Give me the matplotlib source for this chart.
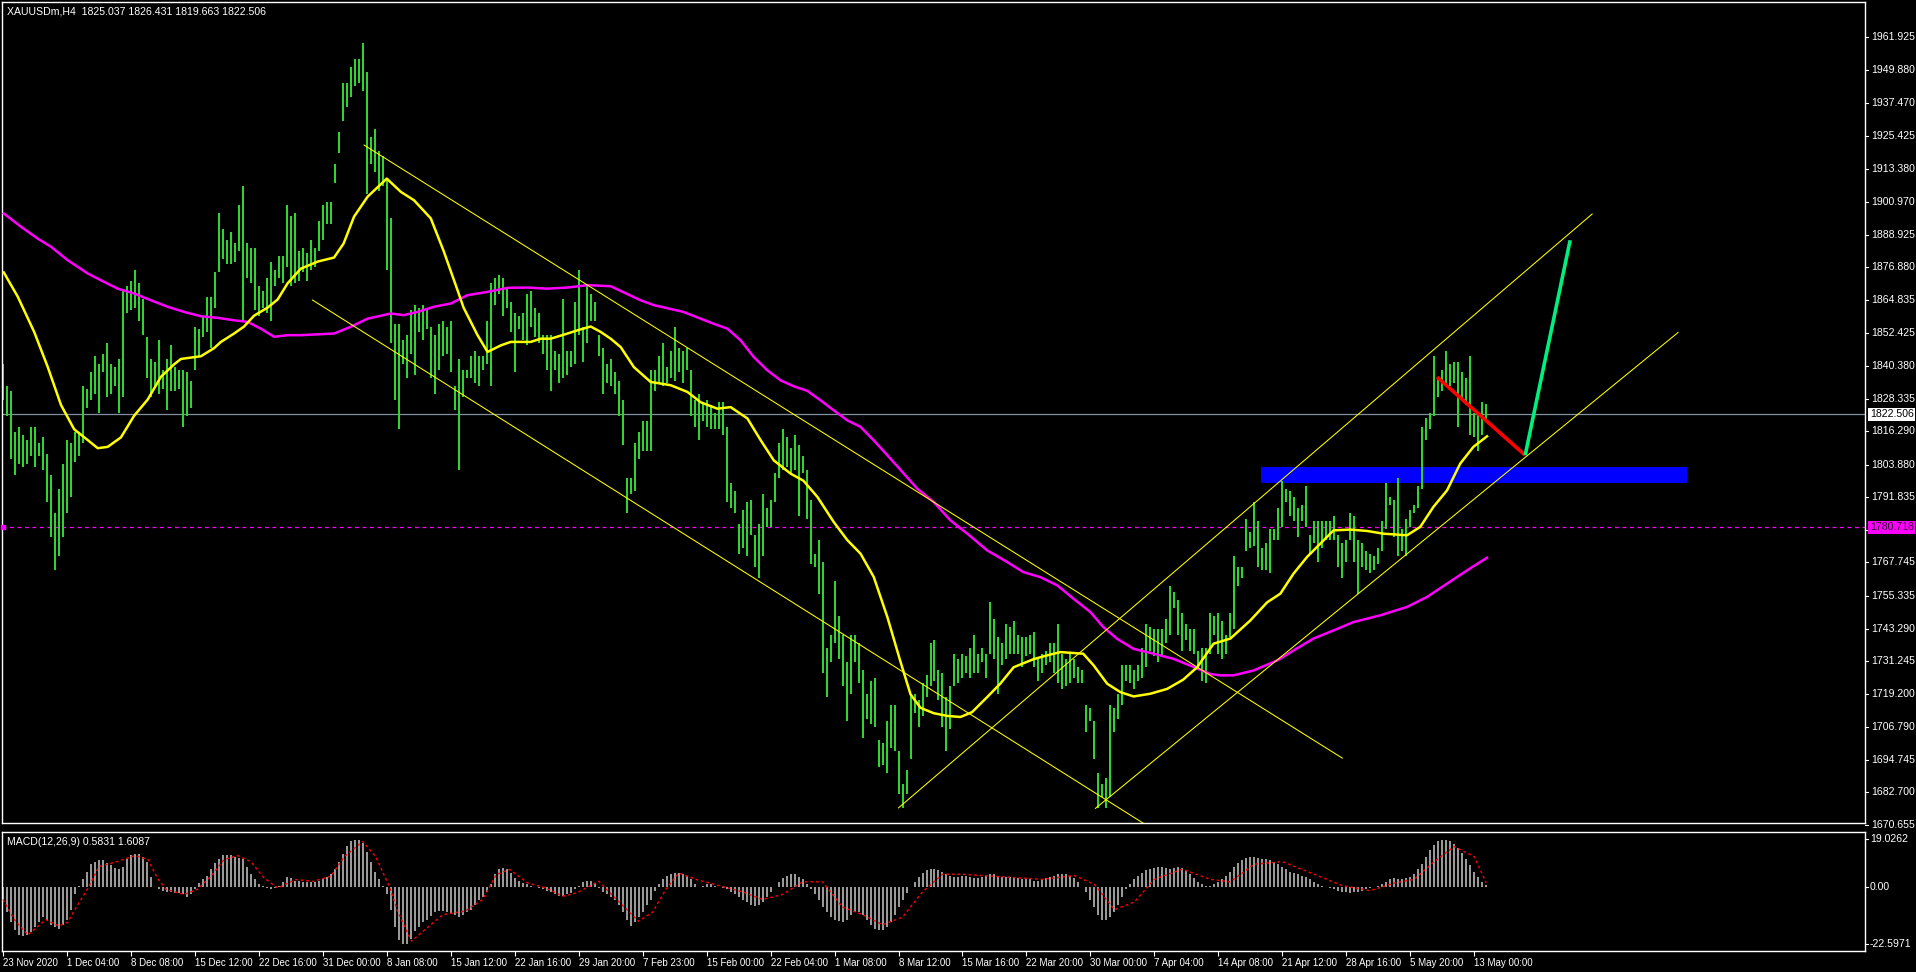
import matplotlib
matplotlib.use('Agg')
import matplotlib.pyplot as plt
import matplotlib.transforms as mtransforms
from matplotlib.patches import Rectangle
import numpy as np

plt.rcParams['font.family'] = ['Liberation Sans', 'DejaVu Sans']

# ---------------- data ----------------
header = "XAUUSDm,H4  1825.037 1826.431 1819.663 1822.506"
macd_title = "MACD(12,26,9) 0.5831 1.6087"

high = [1841,1833,1831,1816,1818,1815,1813,1818,1818,1812,
        1814,1808,1800,1786,1795,1804,1813,1812,1816,1816,
        1833,1832,1838,1844,1841,1845,1849,1841,1840,1843,
        1868,1870,1872,1876,1871,1865,1851,1843,1842,1850,
        1839,1843,1848,1840,1839,1839,1838,1835,1855,1854,
        1859,1866,1866,1875,1897,1891,1887,1890,1886,1900,
        1907,1886,1884,1884,1870,1868,1873,1879,1876,1881,
        1881,1900,1896,1897,1883,1884,1882,1887,1884,1894,
        1900,1901,1901,1915,1927,1945,1945,1951,1954,1954,
        1960,1949,1925,1928,1920,1918,1909,1895,1856,1856,
        1850,1852,1861,1863,1862,1863,1862,1855,1852,1856,
        1857,1855,1857,1833,1843,1839,1839,1844,1846,1844,
        1844,1857,1871,1873,1874,1873,1869,1864,1860,1859,
        1860,1867,1868,1862,1860,1852,1852,1852,1846,1845,
        1865,1846,1846,1864,1876,1855,1870,1867,1864,1852,
        1847,1841,1843,1838,1835,1828,1799,1799,1812,1816,
        1820,1820,1839,1839,1844,1849,1840,1846,1855,1847,
        1846,1847,1839,1828,1830,1827,1828,1826,1823,1827,
        1827,1818,1797,1794,1782,1787,1790,1791,1778,1782,
        1793,1788,1791,1801,1812,1817,1814,1810,1815,1811,
        1807,1802,1791,1771,1776,1768,1736,1741,1761,1748,
        1741,1731,1741,1741,1738,1728,1719,1724,1725,1702,
        1701,1709,1715,1715,1698,1686,1691,1719,1719,1717,
        1723,1726,1738,1739,1728,1727,1718,1722,1734,1732,
        1734,1733,1736,1741,1734,1736,1734,1753,1747,1740,
        1738,1745,1744,1746,1741,1740,1740,1741,1742,1732,
        1734,1735,1738,1738,1745,1734,1732,1734,1732,1729,
        1728,1715,1714,1709,1690,1686,1688,1715,1714,1719,
        1730,1730,1730,1728,1730,1736,1745,1744,1743,1743,
        1743,1747,1759,1757,1754,1749,1745,1743,1743,1735,
        1736,1736,1749,1748,1749,1746,1741,1749,1770,1766,
        1766,1784,1779,1790,1783,1773,1775,1780,1780,1788,
        1798,1795,1794,1792,1788,1789,1796,1778,1783,1783,
        1783,1783,1783,1785,1778,1775,1776,1786,1785,1776,
        1775,1772,1771,1770,1773,1783,1797,1792,1791,1799,
        1780,1784,1787,1789,1796,1818,1821,1823,1844,1836,
        1839,1846,1841,1842,1842,1838,1836,1844,1823,1823,
        1827,1826.4]

low = [1828,1822,1806,1800,1804,1803,1804,1807,1803,1807,
       1802,1790,1777,1765,1770,1777,1786,1792,1805,1807,
       1812,1825,1828,1830,1823,1838,1829,1830,1833,1823,
       1829,1860,1861,1862,1857,1852,1836,1829,1833,1830,
       1832,1824,1831,1831,1832,1818,1822,1825,1839,1844,
       1851,1853,1847,1862,1875,1880,1878,1878,1879,1883,
       1857,1873,1871,1861,1859,1862,1860,1857,1870,1873,
       1871,1877,1870,1871,1872,1875,1872,1876,1877,1883,
       1887,1893,1893,1908,1919,1931,1936,1940,1944,1945,
       1942,1904,1915,1912,1905,1907,1876,1849,1828,1817,
       1841,1836,1845,1837,1853,1850,1854,1836,1830,1839,
       1844,1845,1838,1824,1802,1829,1836,1836,1834,1833,
       1839,1841,1833,1863,1867,1859,1862,1853,1838,1854,
       1850,1848,1855,1851,1849,1845,1839,1831,1839,1834,
       1836,1837,1840,1841,1852,1842,1849,1857,1857,1844,
       1830,1834,1833,1830,1822,1811,1786,1793,1794,1806,
       1809,1809,1809,1831,1834,1833,1834,1836,1835,1838,
       1834,1839,1822,1818,1813,1820,1818,1817,1817,1817,
       1815,1790,1788,1786,1771,1773,1770,1778,1766,1762,
       1770,1781,1781,1790,1799,1802,1803,1801,1802,1785,
       1801,1784,1767,1766,1756,1727,1718,1731,1738,1732,
       1722,1709,1719,1731,1723,1703,1710,1708,1707,1692,
       1693,1690,1699,1698,1682,1677,1682,1695,1712,1707,
       1711,1718,1722,1724,1717,1707,1698,1706,1722,1723,
       1725,1727,1725,1727,1727,1731,1725,1734,1732,1719,
       1730,1732,1734,1734,1734,1729,1733,1734,1729,1724,
       1727,1730,1731,1727,1723,1721,1722,1723,1725,1723,
       1723,1705,1709,1695,1677,1681,1677,1681,1705,1710,
       1715,1724,1723,1721,1724,1725,1729,1735,1733,1731,
       1733,1738,1741,1751,1741,1735,1739,1735,1734,1728,
       1724,1723,1734,1741,1734,1732,1734,1740,1743,1759,
       1762,1772,1773,1774,1766,1765,1765,1764,1776,1776,
       1781,1790,1785,1783,1777,1783,1781,1771,1775,1768,
       1773,1776,1776,1776,1766,1762,1768,1776,1768,1756,
       1766,1765,1764,1765,1767,1772,1780,1789,1777,1770,
       1772,1770,1781,1786,1788,1795,1813,1817,1822,1829,
       1831,1834,1833,1834,1818,1828,1826,1815,1814,1809,
       1815,1819.7]

macd = [-6,-10,-14,-17,-19,-19.5,-19,-18,-16,-14,
        -12,-13,-15,-16,-16.5,-15,-13,-9,-3,0.5,
        3,6,9,10,10.5,10.5,9.5,8.5,7.5,7,
        8,11,12.5,13,13,12,10,4,0,-1,
        -1.5,-2,-2,-2.5,-2.5,-3,-4,-3,-1,1.5,
        3,4.5,7,9.5,11,12.5,12.5,12.5,12,11.5,
        11,8,5,3,1,0.5,-0.5,-1,-0.5,0.5,
        2,4,3.5,2.5,2.5,2,2,2,2,2.5,
        3,4,5,7,10,13,16,18,18.5,18.5,
        17.5,14,10,6,3,0.5,-3,-9,-16,-21,
        -22.5,-22.5,-20.5,-17.5,-16,-14,-13,-11.5,-10,-9.5,
        -9.5,-10,-10.5,-11,-12,-11,-10,-9,-7,-5,
        -4,-2,1,5,7,7.5,7,5.5,3.5,2.5,
        1.5,1,0.5,0,-0.5,-1,-1.5,-2,-3,-3.5,
        -3.5,-3,-2.5,-1,0.5,2,2.5,2.5,1.5,-0.5,
        -2,-3,-4,-5,-7,-10,-13,-15.5,-14,-12,
        -10,-7,-5,-1.5,1,3,4.5,5,5.5,5.5,
        5,4.5,3,1,0,
        0.5,1,1,0.5,0,-0.5,-1,-2,
        -3,-4,-5,-6,-7,-7.5,-7,-6,-4,
        -2,0,2,3.5,4.5,5,5,4,3,
        1,-1,-3,-5,-8,-10,-12,-13,-13.5,-14,-13,
        -11,-10,-10,-11,-13,-15,-16.5,-17,
        -17,-16,-14,-11,-8,-5,-2.5,0,
        2,4,5.5,6.5,7,7,6.5,6,5,4.5,
        4,4,4.5,4.5,4,3.5,3.5,4,4.5,5,5,4.5,4,4,4,3.5,3.5,3,3,3,2.5,2.5,3,3.5,4,
        4.5,5,5,5,4.5,3.5,2,
        0,-2,-5,-8,-11,-13,-13,-12,-10,-7,-4,-1,
        1,3,4.5,5.5,6.5,7,7.5,8,8,7.5,7,7.5,8,7.5,6.5,5,3.5,2,
        1,0.5,0.5,1,2,3,4.5,6,
        8,9.5,10.5,11.5,12,12,11.5,11,11,10.5,10,9,8,7,
        6,5.5,5,4.5,4,3,2,1,0.5,0,-0.5,
        -1,-1.5,-2,-2,-2.5,-2,-2,-1.5,-1,-0.5,0,0.5,1,
        2,3,3.5,3,3,3.5,4,5,7,9,12,
        14.5,16.5,18,18.5,18.5,18,17,15.5,13.5,11,8.5,6,4,2,0.58]

signal_idx = [0,2.85,6.2,10.7,14,16.2,18.5,21.3,24,28.5,33,36.3,38.6,40.8,45.3,48.6,52,55.3,58.7,62,
              65.3,68.7,73.2,77.6,82,85.4,90,93.2,96.6,98.8,102.2,105.5,110,115.6,120,123.4,126.7,131.2,135.7,140,
              143.5,149,153.5,159,162.5,165.8,169,173.5,178,185,190,195,200,205,210,215,220,225,230,235,
              240,250,260,268,273,278,283,288,295,302,307,313,320,328,335,342,348,353,358,363,368,371]
signal_val = [-5,-13,-19,-13,-15.5,-14,-7.6,-0.4,8,10,12.4,10.8,3.5,-1,-3,-1,4.2,10.8,12.4,10,
              3.5,-0.4,2.9,2.2,4.2,12,18,12,0.3,-10,-21.5,-17,-11,-9.6,-5,4.9,6.9,1.6,-0.4,-3.7,
              -2.4,2.2,-5,-13.6,-10,-1,5.5,2.9,1,-2,-5,-3,2,2,-8,-11,-15,-12,-2,5,
              5,4,3,4.5,1,-9,-6,3,7,3,2,9,10,5,0.5,-1.5,1.5,3,10,16,12,1.6087]

fast_ma_idx = [0.2,3.7,7.8,11.2,14.5,17.8,21.2,23.7,26.2,29.5,32.8,36.2,39.5,42.8,44.5,49.5,52.8,54.5,57.8,60.3,
               62.8,66.2,68.7,71.2,74.5,78.7,82.8,85.2,87.8,91.2,96,99.5,102.8,107,110.2,113.7,115.2,118.7,121.2,124.5,
               127,132,134.5,137,141.2,143.7,147,149.5,152,154.5,157.8,162,167,171.2,174.5,178.7,182,186.2,189.5,192.8,
               197,200.2,203.7,207.8,211.2,214.5,217.8,221.2,224.5,227,229.5,232.8,236.2,239.5,242.4,246.2,249.5,252.8,257.8,261.2,
               264.5,270.2,272.8,276.2,279.5,282.8,287,291.2,295.2,298.7,302.8,307,312,316.2,319.5,322.8,326.2,329.5,332.8,337,
               341.2,345.2,351.2,354.5,357.8,361.2,364.5,367.8,371.2]
fast_ma = [1875,1866,1853,1840,1826,1817,1813,1810,1810.5,1814,1822,1828,1836.4,1841,1843,1844,1847,1849.3,1852.4,1855,
           1859,1862,1865,1871,1876.4,1879,1880.5,1885.7,1895.6,1903,1909.7,1904.8,1901.7,1895,1883,1868.4,1862,1851.8,1845.6,1848,
           1849.3,1849.3,1850.5,1850.5,1852.4,1853.6,1855,1853,1850.5,1847.4,1840,1834.5,1833.3,1830.8,1827,1824.6,1825.2,1821,1813,1805.5,
           1800.6,1798,1792,1782.7,1776,1771,1762.4,1747.6,1731,1719,1714,1712,1711,1710.6,1712.4,1718,1723,1729,1732,1733.4,
           1734.6,1734,1729.7,1722.9,1719.8,1718.2,1719.2,1721,1724.4,1729,1737.7,1739.6,1746.3,1753,1756.2,1763.6,1769.8,1774.7,1779.6,1779.9,
           1779.4,1778.4,1777.8,1780.9,1788.3,1794.4,1804.3,1810.5,1814.4]

slow_ma_idx = [0.2,4.5,8.7,12,16.2,21.2,24.5,28.7,32.8,37,41.2,45.3,49.5,53.7,57.8,61.2,64.5,67.8,71.2,74.5,
               82.8,87,91.2,97,100.2,103.7,107.8,112,116.2,121.2,126.2,131.2,136.2,141.2,146.2,152,159.5,162.8,170.2,177.8,
               181.2,184.5,187.8,191.2,194.5,197.8,201.2,204.5,207.8,211.2,214.5,217.8,221.2,224.5,228.7,232.8,237,241.2,246.2,251.2,
               255.2,259.5,263.7,267.8,272,275.2,278.7,282.8,287.8,292.8,297.8,302,304.5,307.8,312.8,318.7,322.8,327.8,332.8,337.8,
               344.5,351.2,356.2,361.2,366.2,371.2]
slow_ma = [1896.8,1891.9,1887.5,1884.5,1879.5,1874.6,1872.1,1869,1867.2,1864.7,1862.3,1860.4,1858.8,1858.2,1857.3,1856.7,1854.2,1851.2,1851.8,1851.8,
           1852.4,1854.9,1857.9,1859.8,1859.2,1860.4,1862.3,1863.5,1866.6,1867.8,1869.3,1869.4,1869,1869.4,1870.3,1869.9,1864.7,1862.9,1860.4,1856,
           1854.2,1849.9,1843.7,1838.8,1835.1,1832.9,1831.2,1827.7,1824,1820.3,1817.9,1812.9,1807.4,1802,1795,1790.1,1783.3,1778.4,1772.2,1767.9,
           1764.2,1762.3,1759.3,1754.3,1749.4,1743.9,1739.5,1735.8,1734,1732.1,1729.1,1726.5,1726,1726,1727.8,1731.5,1735.2,1739.6,1742.6,1745.7,
           1748.2,1751.3,1755,1759.9,1764.8,1769.5]

# drawn objects (bar index, price)
channel_down_upper = ([90.3, 335.0], [1922.1, 1695.4])
channel_down_lower = ([77.4, 287.5], [1864.8, 1669.2])
channel_up_upper = ([224.0, 397.5], [1677.0, 1896.6])
channel_up_lower = ([273.25, 419.0], [1676.8, 1852.8])
zone_idx = (314.75, 421.2)
zone_price = (1797.1, 1803.0)
red_path = ([358.7, 380.75], [1836.3, 1807.4])
green_path = ([380.75, 392.0], [1807.4, 1886.9])
last_price = 1822.506
hline_price = 1780.718

price_ticks = [1961.925, 1949.880, 1937.470, 1925.425, 1913.380, 1900.970, 1888.925, 1876.880,
               1864.835, 1852.425, 1840.380, 1828.335, 1816.290, 1803.880, 1791.835, 1779.790,
               1767.745, 1755.335, 1743.290, 1731.245, 1719.200, 1706.790, 1694.745, 1682.700, 1670.655]
macd_ticks = [19.0262, 0.0, -22.5971]
macd_tick_labels = ["19.0262", "0.00", "-22.5971"]
date_labels = ["23 Nov 2020", "1 Dec 04:00", "8 Dec 08:00", "15 Dec 12:00", "22 Dec 16:00",
               "31 Dec 00:00", "8 Jan 08:00", "15 Jan 12:00", "22 Jan 16:00", "29 Jan 20:00",
               "7 Feb 23:00", "15 Feb 00:00", "22 Feb 04:00", "1 Mar 08:00", "8 Mar 12:00",
               "15 Mar 16:00", "22 Mar 20:00", "30 Mar 00:00", "7 Apr 04:00", "14 Apr 08:00",
               "21 Apr 12:00", "28 Apr 16:00", "5 May 20:00", "13 May 00:00"]
bars_per_label = 16

# ---------------- figure ----------------
W, H = 1916, 972
fig = plt.figure(figsize=(W / 100, H / 100), dpi=100, facecolor='black')


def rect(l, t, r, b):
    return [l / W, 1 - b / H, (r - l) / W, (b - t) / H]


ax = fig.add_axes(rect(2, 2, 1865, 823))
axm = fig.add_axes(rect(2, 832, 1865, 951))
for a in (ax, axm):
    a.set_facecolor('black')
    for s in a.spines.values():
        s.set_color('white')
        s.set_linewidth(1.0)
    a.set_xlim(-0.25, 465.75)
    a.tick_params(left=False, right=False, labelleft=False, labelright=False,
                  top=False, labeltop=False)
ax.tick_params(bottom=False, labelbottom=False)
ax.set_ylim(1671.4, 1975.0)
axm.set_ylim(-25.4, 21.74)

FS = 7.6
FS_DATE = 7.0
TXT = dict(color='white', fontsize=FS)
n = min(len(high), len(low))
idx = np.arange(n)

# background zone
ax.add_patch(Rectangle((zone_idx[0], zone_price[0]), zone_idx[1] - zone_idx[0],
                       zone_price[1] - zone_price[0], facecolor='#0000FF', edgecolor='none', zorder=0.5))

# horizontal lines
ax.axhline(last_price, color='#8090A0', lw=0.9, zorder=1)
ax.axhline(hline_price, color='#FF00FF', lw=0.9, ls=(0, (3, 3)), zorder=1)
ax.plot([0.0], [hline_price], marker='s', ms=2.5, color='#FF00FF', zorder=5, clip_on=False)

# price bars
ax.vlines(idx, np.array(low[:n]), np.array(high[:n]), color='#2FD52F', lw=1.44, zorder=2)

# moving averages
ax.plot(slow_ma_idx, slow_ma, color='#FF00FF', lw=1.8, zorder=3)
ax.plot(fast_ma_idx, fast_ma, color='#FFFF00', lw=1.8, zorder=3)

# channel lines
for xs, ys in (channel_down_upper, channel_down_lower, channel_up_upper, channel_up_lower):
    ax.plot(xs, ys, color='#FFFF00', lw=0.75, zorder=3)

# projection lines
ax.plot(*red_path, color='#FF0000', lw=2.6, zorder=4, solid_capstyle='butt')
ax.plot(*green_path, color='#00F080', lw=2.6, zorder=4, solid_capstyle='butt')

# right price scale
tr = mtransforms.blended_transform_factory(ax.transAxes, ax.transData)
dx = 1.0 / 1863
for v in price_ticks:
    ax.plot([1.0, 1.0 + 3 * dx], [v, v], transform=tr, color='white', lw=0.8, clip_on=False)
    ax.text(1.0 + 6 * dx, v, f"{v:.3f}", transform=tr, ha='left', va='center', clip_on=False, **TXT)
ax.text(1.0 + 5 * dx, last_price, f"{last_price:.3f}", transform=tr, ha='left', va='center',
        color='black', fontsize=FS, clip_on=False, zorder=10,
        bbox=dict(boxstyle='square,pad=0.15', fc='white', ec='none'))
ax.text(1.0 + 5 * dx, hline_price, f"{hline_price:.3f}", transform=tr, ha='left', va='center',
        color='#300030', fontsize=FS, clip_on=False, zorder=10,
        bbox=dict(boxstyle='square,pad=0.15', fc='#FF00FF', ec='none'))

# MACD panel
m = len(macd)
axm.vlines(np.arange(m), 0, np.array(macd), color='#C8C8C8', lw=1.1, zorder=2)
axm.plot(signal_idx, signal_val, color='#FF0000', lw=1.0, ls=(0, (2, 2)), zorder=3)
trm = mtransforms.blended_transform_factory(axm.transAxes, axm.transData)
for v, lab in zip(macd_ticks, macd_tick_labels):
    axm.plot([1.0, 1.0 + 3 * dx], [v, v], transform=trm, color='white', lw=0.8, clip_on=False)
    axm.text(1.0 + 5 * dx, v, lab, transform=trm, ha='left', va='center', clip_on=False, **TXT)

# date axis
axm.set_xticks([k * bars_per_label for k in range(len(date_labels))])
axm.set_xticklabels(date_labels)
axm.tick_params(axis='x', bottom=True, labelbottom=True, direction='out', length=3.5,
                width=0.8, color='white', labelcolor='white', labelsize=FS_DATE, pad=1.5)
for lbl in axm.get_xticklabels():
    lbl.set_ha('left')

# titles
fig.text(7 / W, 1 - 11 / H, header, ha='left', va='center', **TXT)
fig.text(7 / W, 1 - 842 / H, macd_title, ha='left', va='center', **TXT)

fig.savefig('out.png', dpi=100, facecolor='black')
print(len(high), len(low), len(macd))
